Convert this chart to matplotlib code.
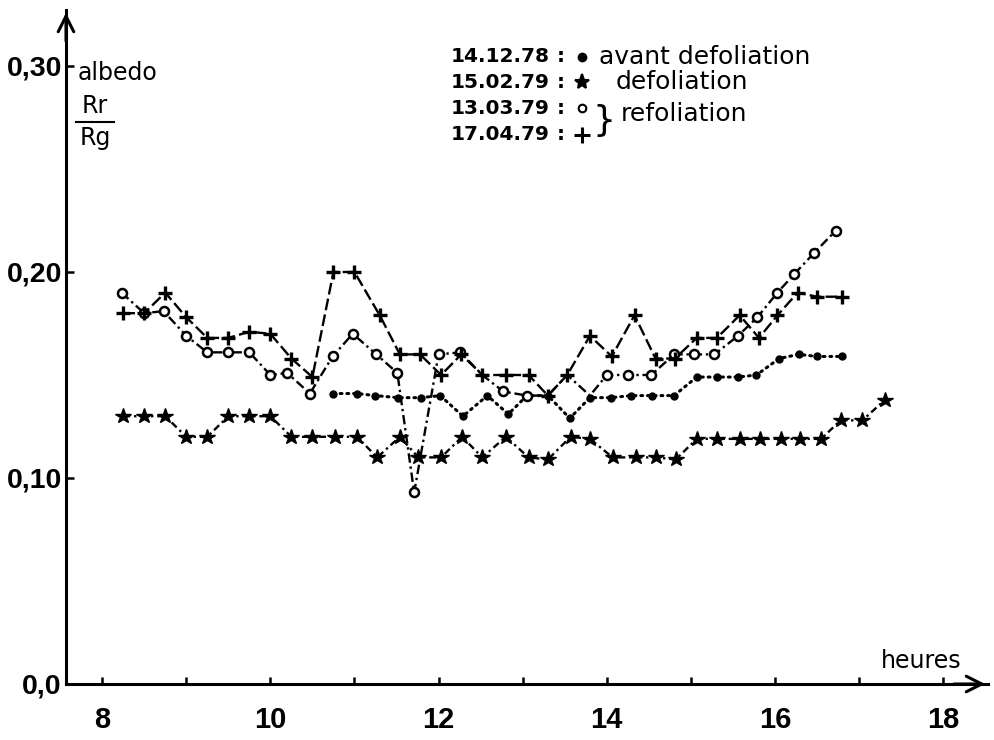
import matplotlib
matplotlib.use("Agg")
from matplotlib import pyplot as plt
from matplotlib.lines import Line2D

# albedo Rr/Rg through the day, four dates
dot_t = [10.75, 11.03, 11.25, 11.52, 11.79, 12.02, 12.29, 12.58, 12.83, 13.05, 13.3, 13.56, 13.8,
         14.05, 14.29, 14.54, 14.8, 15.07, 15.31, 15.56, 15.78, 16.05, 16.28, 16.5, 16.8]
dot_v = [0.141, 0.141, 0.14, 0.139, 0.139, 0.14, 0.13, 0.14, 0.131, 0.14, 0.14, 0.129, 0.139,
         0.139, 0.14, 0.14, 0.14, 0.149, 0.149, 0.149, 0.15, 0.158, 0.16, 0.159, 0.159]

star_t = [8.25, 8.5, 8.75, 9.0, 9.25, 9.5, 9.75, 10.0, 10.25, 10.5, 10.77, 11.03, 11.27, 11.54,
          11.76, 12.03, 12.28, 12.52, 12.8, 13.07, 13.3, 13.57, 13.8, 14.07, 14.35, 14.58, 14.82,
          15.07, 15.31, 15.58, 15.82, 16.07, 16.3, 16.55, 16.78, 17.04, 17.31]
star_v = [0.13, 0.13, 0.13, 0.12, 0.12, 0.13, 0.13, 0.13, 0.12, 0.12, 0.12, 0.12, 0.11, 0.12,
          0.11, 0.11, 0.12, 0.11, 0.12, 0.11, 0.109, 0.12, 0.119, 0.11, 0.11, 0.11, 0.109,
          0.119, 0.119, 0.119, 0.119, 0.119, 0.119, 0.119, 0.128, 0.128, 0.138]

circ_t = [8.23, 8.5, 8.73, 9.0, 9.25, 9.5, 9.75, 10.0, 10.2, 10.47, 10.74, 10.98, 11.26, 11.51,
          11.71, 12.0, 12.26, 12.52, 12.77, 13.05, 13.3, 13.53, 13.8, 14.0, 14.25, 14.53, 14.8,
          15.04, 15.28, 15.56, 15.79, 16.03, 16.23, 16.46, 16.72]
circ_v = [0.19, 0.18, 0.181, 0.169, 0.161, 0.161, 0.161, 0.15, 0.151, 0.141, 0.159, 0.17, 0.16,
          0.151, 0.093, 0.16, 0.161, 0.15, 0.142, 0.14, 0.14, 0.15, 0.14, 0.15, 0.15, 0.15, 0.16,
          0.16, 0.16, 0.169, 0.178, 0.19, 0.199, 0.209, 0.22]
circ_hidden = [17, 20, 21, 22]  # points hidden under other marks

plus_t = [8.25, 8.5, 8.75, 9.0, 9.25, 9.5, 9.75, 10.0, 10.25, 10.5, 10.75, 11.0, 11.3, 11.54,
          11.78, 12.03, 12.27, 12.52, 12.8, 13.07, 13.3, 13.53, 13.8, 14.06, 14.33, 14.58, 14.81,
          15.07, 15.31, 15.58, 15.81, 16.03, 16.27, 16.5, 16.8]
plus_v = [0.18, 0.18, 0.19, 0.178, 0.168, 0.168, 0.171, 0.17, 0.158, 0.149, 0.20, 0.20, 0.179,
          0.16, 0.16, 0.15, 0.16, 0.15, 0.15, 0.15, 0.14, 0.15, 0.169, 0.159, 0.179, 0.158, 0.158,
          0.168, 0.168, 0.179, 0.168, 0.179, 0.19, 0.188, 0.188]

x_ticks = list(range(8, 19))
x_labels = [str(h) if h % 2 == 0 else "" for h in x_ticks]
y_ticks = [0.0, 0.1, 0.2, 0.3]
y_labels = ["0,0", "0,10", "0,20", "0,30"]

legend_dates = ["14.12.78", "15.02.79", "13.03.79", "17.04.79"]

W, H = 994, 740
fig = plt.figure(figsize=(W / 100, H / 100), dpi=100)
fig.patch.set_facecolor("white")


def px(x, y):
    return x / W, 1 - y / H


x0, y0, x1, y1 = 66, 684, 988, 10
ax = fig.add_axes([x0 / W, 1 - y0 / H, (x1 - x0) / W, (y0 - y1) / H])
ax.set_xlim(7.57, 7.57 + (x1 - x0) / 84.1)
ax.set_ylim(0, (y0 - y1) / 2060)

lw = 1.7
ax.plot(dot_t, dot_v, color="black", lw=2.2, linestyle=(0, (0.6, 1.6)), dash_capstyle="round",
        marker="o", ms=5, mfc="black", mec="black", zorder=3)
ax.plot(star_t, star_v, color="black", lw=lw, linestyle=(0, (3, 1.6, 1, 1.6)),
        marker="*", ms=11.5, mfc="black", mec="black", zorder=3)
show = [i for i in range(len(circ_t)) if i not in circ_hidden]
ax.plot(circ_t, circ_v, color="black", lw=lw, linestyle=(0, (4, 1.6, 1, 1.6)),
        marker="o", ms=6.5, mfc="white", mec="black", mew=1.8, markevery=show, zorder=4)
ax.plot(plus_t, plus_v, color="black", lw=lw, linestyle=(0, (5, 1.8)),
        marker="+", ms=10, mew=2.4, mec="black", zorder=5)

for side in ["top", "right"]:
    ax.spines[side].set_visible(False)
for side in ["left", "bottom"]:
    ax.spines[side].set_linewidth(2.2)
ax.annotate("", xy=(1.0, 0), xycoords="axes fraction", xytext=(0.96, 0),
            arrowprops=dict(arrowstyle="->", lw=2.2, mutation_scale=28, color="black"))
ax.annotate("", xy=(0, 1.0), xycoords="axes fraction", xytext=(0, 0.95),
            arrowprops=dict(arrowstyle="->", lw=2.2, mutation_scale=28, color="black"))

fam = ["Liberation Sans", "DejaVu Sans"]
ax.set_xticks(x_ticks)
ax.set_xticklabels(x_labels, fontsize=21, fontweight="bold", family=fam)
ax.set_yticks(y_ticks)
ax.set_yticklabels(y_labels, fontsize=20.5, fontweight="bold", family=fam)
ax.tick_params(axis="x", direction="in", length=5, width=1.8, pad=16)
ax.tick_params(axis="y", direction="in", length=6, width=1.8, pad=3)
ax.yaxis.get_major_ticks()[0].tick1line.set_visible(False)

# axis labels
fig.text(*px(78, 73), "albedo", fontsize=17, va="center", ha="left")
fig.text(*px(95, 106), "Rr", fontsize=17, va="center", ha="center")
fig.text(*px(95, 138), "Rg", fontsize=17, va="center", ha="center")
fig.add_artist(Line2D([76 / W, 114 / W], [1 - 122 / H, 1 - 122 / H], color="black", lw=1.5))
fig.text(*px(921, 661), "heures", fontsize=17, va="center", ha="center")

# legend block
rows = [57, 82, 108, 135]
marks = [("o", 5.5, "black"), ("*", 11, "black"), ("o", 5.5, "white"), ("+", 12, "black")]
for y, date, (m, s, fc) in zip(rows, legend_dates, marks):
    fig.text(*px(451, y), date, fontsize=14.5, fontweight="bold", va="center", ha="left")
    fig.text(*px(557, y), ":", fontsize=14.5, fontweight="bold", va="center", ha="left")
    fig.add_artist(Line2D([582 / W], [1 - y / H], marker=m, ms=s, mfc=fc, mec="black",
                          mew=2.2 if m == "+" else 1.5, color="black"))
fig.text(*px(599, rows[0]), "avant defoliation", fontsize=18, va="center", ha="left")
fig.text(*px(616, rows[1]), "defoliation", fontsize=18, va="center", ha="left")
fig.text(*px(621, 114), "refoliation", fontsize=18, va="center", ha="left")
fig.text(*px(604, 121), "}", fontsize=26, va="center", ha="center")

fig.savefig("out.png", dpi=100, facecolor="white")
